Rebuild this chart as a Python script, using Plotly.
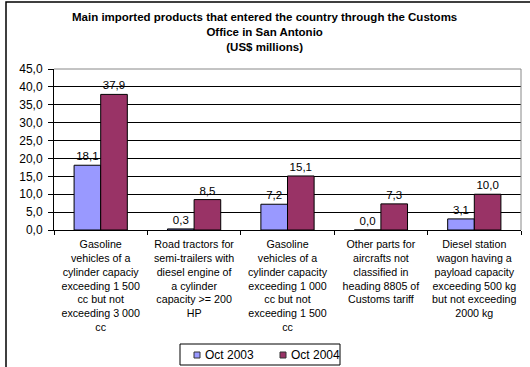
import plotly.graph_objects as go

# Product categories (line-wrapped for the axis)
categories = [
    "Gasoline<br>vehicles of a<br>cylinder capaciy<br>exceeding 1 500<br>cc but not<br>exceeding 3 000<br>cc",
    "Road tractors for<br>semi-trailers with<br>diesel engine of<br>a cylinder<br>capacity >= 200<br>HP",
    "Gasoline<br>vehicles of a<br>cylinder capacity<br>exceeding 1 000<br>cc but not<br>exceeding 1 500<br>cc",
    "Other parts for<br>aircrafts not<br>classified in<br>heading 8805 of<br>Customs tariff",
    "Diesel station<br>wagon having a<br>payload capacity<br>exceeding 500 kg<br>but not exceeding<br>2000 kg",
]
oct_2003 = [18.1, 0.3, 7.2, 0.0, 3.1]
oct_2004 = [37.9, 8.5, 15.1, 7.3, 10.0]
series_names = ["Oct 2003", "Oct 2004"]
series_colors = ["#9999FF", "#993366"]
y_ticks = [0, 5, 10, 15, 20, 25, 30, 35, 40, 45]
title_text = ("Main imported products that entered the country through the Customs"
              "<br>Office in San Antonio<br>(US$ millions)")

FONT = "Liberation Sans, Arial, sans-serif"

fig = go.Figure()
for name, vals, color in zip(series_names, [oct_2003, oct_2004], series_colors):
    fig.add_trace(go.Bar(
        name=name, x=categories, y=vals,
        marker=dict(color=color, line=dict(color="black", width=1)),
        texttemplate="%{y:.1f}", textposition="outside",
        textfont=dict(size=11.5, color="black", family=FONT),
        cliponaxis=False, showlegend=False,
    ))

# Plot-area geometry in pixels
W, H = 530, 367
L, R, T, B = 54, 9, 69, 137
pw, ph = W - L - R, H - T - B


def px_x(p):
    return (p - L) / pw


def px_y(p):
    return (H - B - p) / ph


shapes = [
    # outer frame (runs off the right and bottom edges)
    dict(type="rect", xref="paper", yref="paper",
         x0=px_x(6), x1=px_x(560), y0=px_y(400), y1=px_y(2),
         line=dict(color="black", width=1.5), layer="below"),
    # plot-area border on top and right
    dict(type="line", xref="paper", yref="paper", x0=0, x1=1, y0=1, y1=1,
         line=dict(color="#888888", width=1), layer="above"),
    dict(type="line", xref="paper", yref="paper", x0=1, x1=1, y0=0, y1=1,
         line=dict(color="#888888", width=1), layer="above"),
    # legend box
    dict(type="rect", xref="paper", yref="paper",
         x0=px_x(180), x1=px_x(340), y0=px_y(365), y1=px_y(344),
         line=dict(color="black", width=1), fillcolor="white"),
]

annotations = [
    dict(text="<b>" + title_text + "</b>", xref="paper", yref="paper",
         x=px_x(264), y=px_y(9), xanchor="center", yanchor="top",
         showarrow=False, align="center",
         font=dict(size=11.5, family=FONT, color="black")),
]

# hand-drawn legend entries
legend_x = [194, 280]
for name, color, lx in zip(series_names, series_colors, legend_x):
    shapes.append(dict(type="rect", xref="paper", yref="paper",
                       x0=px_x(lx), x1=px_x(lx + 6),
                       y0=px_y(358), y1=px_y(352),
                       line=dict(color="#333333", width=1), fillcolor=color))
    annotations.append(dict(text=name, xref="paper", yref="paper",
                            x=px_x(lx + 8.5), y=px_y(355),
                            xanchor="left", yanchor="middle",
                            showarrow=False,
                            font=dict(size=12, family=FONT, color="black")))

fig.update_layout(
    width=W, height=H,
    margin=dict(l=L, r=R, t=T, b=B, pad=0, autoexpand=False),
    paper_bgcolor="white", plot_bgcolor="white",
    separators=",.",
    font=dict(family=FONT, size=11, color="black"),
    barmode="group", bargap=0.43, bargroupgap=0,
    showlegend=False,
    shapes=shapes, annotations=annotations,
)

fig.update_yaxes(
    range=[0, 45], tickvals=y_ticks, tickformat=".1f",
    showgrid=True, gridcolor="black", gridwidth=1,
    showline=True, linecolor="black", linewidth=1,
    ticks="outside", ticklen=5, tickcolor="black", ticklabelstandoff=3,
    tickfont=dict(size=12, family=FONT),
    zeroline=False, automargin=False,
)
fig.update_xaxes(
    showline=True, linecolor="black", linewidth=1,
    ticks="outside", ticklen=4, tickcolor="black", tickson="boundaries",
    ticklabelstandoff=4,
    tickfont=dict(size=10.7, family=FONT), tickangle=0,
    showgrid=False, automargin=False,
)

fig.write_html("out.html")
